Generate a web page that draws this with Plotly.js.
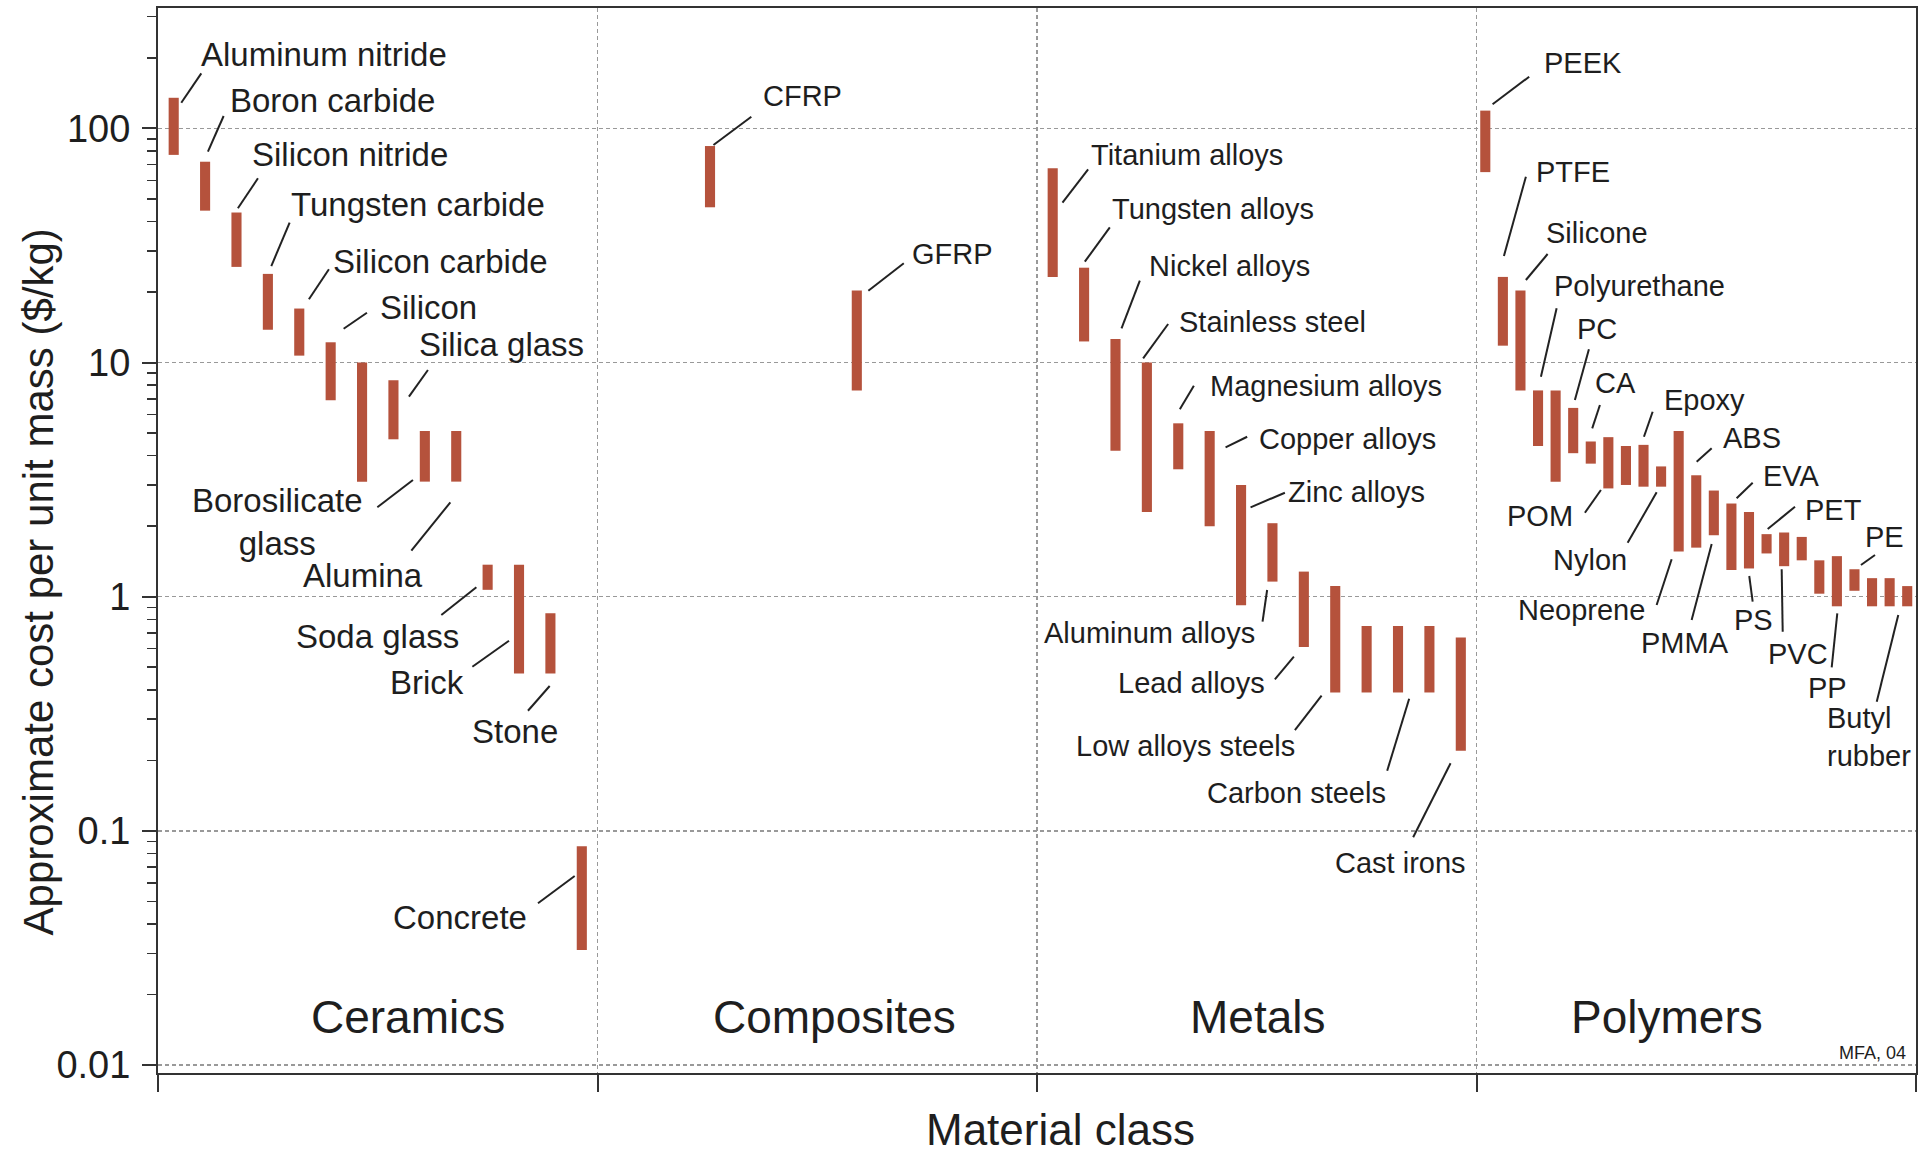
<!DOCTYPE html>
<html>
<head>
<meta charset="utf-8">
<script src="https://cdn.plot.ly/plotly-3.0.1.min.js"></script>
<style>
html,body{margin:0;padding:0;background:#ffffff;}
#chart{width:1922px;height:1157px;}
</style>
</head>
<body>
<div id="chart"></div>
<script>
// ---------------- DATA ----------------
const categories = ['Ceramics', 'Composites', 'Metals', 'Polymers'];

const ceramicsNames = ['Aluminum nitride', 'Boron carbide', 'Silicon nitride', 'Tungsten carbide',
  'Silicon carbide', 'Silicon', null, 'Silica glass', 'Borosilicate glass', 'Alumina',
  'Soda glass', 'Brick', 'Stone', 'Concrete'];
const ceramicsLow  = [77, 44.5, 25.6, 13.8, 10.7, 6.9, 3.1, 4.7, 3.1, 3.1, 1.07, 0.47, 0.47, 0.031];
const ceramicsHigh = [135, 72, 43.7, 23.9, 17, 12.2, 10, 8.4, 5.1, 5.1, 1.37, 1.37, 0.85, 0.086];

const compositesNames = ['CFRP', 'GFRP'];
const compositesLow  = [46, 7.6];
const compositesHigh = [84, 20.3];

const metalsNames = ['Titanium alloys', 'Tungsten alloys', 'Nickel alloys', 'Stainless steel',
  'Magnesium alloys', 'Copper alloys', 'Zinc alloys', 'Aluminum alloys', 'Lead alloys',
  'Low alloys steels', null, 'Carbon steels', null, 'Cast irons'];
const metalsLow  = [23.2, 12.3, 4.2, 2.3, 3.5, 2.0, 0.92, 1.16, 0.61, 0.39, 0.39, 0.39, 0.39, 0.22];
const metalsHigh = [67.5, 25.4, 12.6, 10, 5.5, 5.1, 3.0, 2.06, 1.28, 1.11, 0.75, 0.75, 0.75, 0.67];

const polymersNames = ['PEEK', 'PTFE', 'Silicone', 'Polyurethane', null, 'PC', 'CA', 'POM', null,
  'Epoxy', 'Nylon', 'Neoprene', 'ABS', 'PMMA', 'EVA', 'PS', 'PET', 'PVC', null, null,
  'PP', 'PE', null, null, 'Butyl rubber'];
const polymersLow  = [65, 11.8, 7.6, 4.4, 3.1, 4.1, 3.7, 2.9, 3.0, 2.95, 2.95, 1.56, 1.62, 1.83,
  1.3, 1.32, 1.53, 1.35, 1.43, 1.03, 0.91, 1.06, 0.91, 0.91, 0.91];
const polymersHigh = [119, 23.2, 20.3, 7.6, 7.6, 6.4, 4.6, 4.8, 4.4, 4.45, 3.6, 5.1, 3.3, 2.84,
  2.5, 2.3, 1.85, 1.88, 1.8, 1.43, 1.49, 1.31, 1.2, 1.2, 1.11];

const yTickValues = [0.01, 0.1, 1, 10, 100];
const yTickLabels = ['0.01', '0.1', '1', '10', '100'];

const xTitle = 'Material class';
const yTitle = 'Approximate cost per unit mass ($/kg)';

// ---------------- LAYOUT HELPERS (label placement, not data) ----------------
// composites bars are not evenly spaced inside their class column
const compositeSlots = [0.256, 0.590];

// label: [textX, textY(log10), xanchor, leaderX0, leaderY0(log10), leaderX1, leaderY1(log10)]
const labelPlacement = {
  'Aluminum nitride':   [0.0931, 2.3151, 'left',   0.0530, 2.1093, 0.0985, 2.2348],
  'Boron carbide':      [0.1591, 2.1196, 'left',   0.1136, 1.9001, 0.1493, 2.0525],
  'Silicon nitride':    [0.2085, 1.8903, 'left',   0.1818, 1.6584, 0.2274, 1.7865],
  'Tungsten carbide':   [0.2979, 1.6755, 'left',   0.2578, 1.4120, 0.2995, 1.5969],
  'Silicon carbide':    [0.3944, 1.4334, 'left',   0.3434, 1.2698, 0.3889, 1.3979],
  'Silicon':            [0.5005, 1.2357, 'left',   0.4224, 1.1443, 0.4754, 1.2126],
  'Silica glass':       [0.5892, 1.0777, 'left',   0.5710, 0.8540, 0.6142, 0.9680],
  'Borosilicate glass': [0.4702, 0.3190, 'right',  0.4991, 0.3817, 0.5801, 0.4983],
  'Alumina':            [0.6067, 0.0892, 'right',  0.5765, 0.1964, 0.6652, 0.4031],
  'Soda glass':         [0.6903, -0.1709, 'right', 0.6447, -0.0782, 0.7244, 0.0401],
  'Brick':              [0.7000, -0.3673, 'right', 0.7153, -0.2990, 0.7986, -0.1879],
  'Stone':              [0.8122, -0.5744, 'center',0.8418, -0.4868, 0.8912, -0.3813],
  'Concrete':           [0.8441, -1.3676, 'right', 0.8646, -1.3092, 0.9481, -1.1926],

  'CFRP':               [1.3721, 2.1401, 'left',   1.2638, 1.9287, 1.3500, 2.0495],
  'GFRP':               [1.7121, 1.4624, 'left',   1.6163, 1.3066, 1.6969, 1.4236],

  'Titanium alloys':    [2.1186, 1.8881, 'left',   2.0580, 1.6823, 2.1163, 1.8249],
  'Tungsten alloys':    [2.1657, 1.6563, 'left',   2.1088, 1.4304, 2.1657, 1.5773],
  'Nickel alloys':      [2.2492, 1.4142, 'left',   2.1923, 1.1460, 2.2340, 1.3493],
  'Stainless steel':    [2.3175, 1.1721, 'left',   2.2415, 1.0179, 2.2984, 1.1644],
  'Magnesium alloys':   [2.3894, 0.9018, 'left',   2.3250, 0.8001, 2.3569, 0.9009],
  'Copper alloys':      [2.4995, 0.6725, 'left',   2.4290, 0.6379, 2.4782, 0.6831],
  'Zinc alloys':        [2.5662, 0.4483, 'left',   2.4859, 0.3817, 2.5640, 0.4440],
  'Aluminum alloys':    [2.5009, -0.1529, 'right', 2.5132, -0.1068, 2.5236, 0.0286],
  'Lead alloys':        [2.5223, -0.3699, 'right', 2.5412, -0.3528, 2.5845, -0.2563],
  'Low alloys steels':  [2.5906, -0.6367, 'right', 2.5868, -0.5693, 2.6475, -0.4228],
  'Carbon steels':      [2.7991, -0.8361, 'right', 2.7968, -0.7430, 2.8468, -0.4356],
  'Cast irons':         [2.8264, -1.1350, 'center',2.8559, -1.0274, 2.9410, -0.7114],

  'PEEK':               [3.1482, 2.2776, 'left',   3.0366, 2.1025, 3.1199, 2.2203],
  'PTFE':               [3.1307, 1.8147, 'left',   3.0624, 1.4547, 3.1124, 1.7933],
  'Silicone':           [3.1534, 1.5529, 'left',   3.1124, 1.3523, 3.1618, 1.4633],
  'Polyurethane':       [3.1709, 1.3288, 'left',   3.1466, 0.9394, 3.1823, 1.2314],
  'PC':                 [3.2239, 1.1439, 'left',   3.2239, 0.8399, 3.2558, 1.0564],
  'CA':                 [3.2656, 0.9133, 'left',   3.2633, 0.7190, 3.2808, 0.8185],
  'Epoxy':              [3.4212, 0.8386, 'left',   3.3810, 0.6831, 3.4008, 0.7899],
  'POM':                [3.2239, 0.3437, 'right',  3.2467, 0.3586, 3.2831, 0.4556],
  'Nylon':              [3.3475, 0.1567, 'right',  3.3439, 0.2305, 3.4099, 0.4457],
  'Neoprene':           [3.3885, -0.0568, 'right', 3.4099, -0.0355, 3.4440, 0.1597],
  'ABS':                [3.5555, 0.6763, 'left',   3.5009, 0.5764, 3.5351, 0.6336],
  'PMMA':               [3.4743, -0.1991, 'center',3.4895, -0.0995, 3.5351, 0.2250],
  'EVA':                [3.6466, 0.5140, 'left',   3.5919, 0.4201, 3.6284, 0.4867],
  'PS':                 [3.6306, -0.0995, 'center',3.6284, -0.0214, 3.6206, 0.0884],
  'PET':                [3.7422, 0.3689, 'left',   3.6626, 0.2890, 3.7247, 0.3843],
  'PVC':                [3.7315, -0.2435, 'center',3.6967, -0.1494, 3.6944, 0.1170],
  'PE':                 [3.8787, 0.2562, 'left',   3.8748, 0.1353, 3.9067, 0.1780],
  'PP':                 [3.7981, -0.3913, 'center',3.8082, -0.3015, 3.8209, -0.0709],
  'Butyl rubber':       [3.7940, -0.6004, 'left',  3.9106, -0.4484, 3.9597, -0.0782]
};
const labelDisplay = {'Borosilicate glass': 'Borosilicate<br>glass', 'Butyl rubber': 'Butyl<br>rubber'};
const labelAlign = {'Borosilicate glass': 'center', 'Butyl rubber': 'left'};
// label font size per class column (ceramics labels are set larger in the original)
const labelSizeByClass = [33, 29, 29, 29];

// class captions: [x centre, y (log10)]
const classCaptionPos = [[0.568, -1.7948], [1.540, -1.7948], [2.502, -1.7948], [3.433, -1.7948]];

// ---------------- BUILD ----------------
const groups = [
  {names: ceramicsNames, low: ceramicsLow, high: ceramicsHigh},
  {names: compositesNames, low: compositesLow, high: compositesHigh, slots: compositeSlots},
  {names: metalsNames, low: metalsLow, high: metalsHigh},
  {names: polymersNames, low: polymersLow, high: polymersHigh}
];

const barX = [], barBase = [], barLen = [], barHover = [];
const classOfName = {};
groups.forEach((g, ci) => {
  const n = g.low.length;
  g.low.forEach((lo, i) => {
    const x = ci + (g.slots ? g.slots[i] : (i + 0.5) / n);
    barX.push(x);
    barBase.push(lo);
    barLen.push(g.high[i] - lo);
    barHover.push((g.names[i] || categories[ci]) + ': ' + lo + ' – ' + g.high[i] + ' $/kg');
    if (g.names[i]) classOfName[g.names[i]] = ci;
  });
});

const FONT = 'Liberation Sans, Arial, Helvetica, sans-serif';
const TXT = '#1e1e1e';

const leadX = [], leadY = [];
const annotations = [];
Object.keys(labelPlacement).forEach(name => {
  const p = labelPlacement[name];
  leadX.push(p[3], p[5], null);
  leadY.push(Math.pow(10, p[4]), Math.pow(10, p[6]), null);
  annotations.push({
    x: p[0], y: p[1], xref: 'x', yref: 'y',
    text: labelDisplay[name] || name,
    showarrow: false, xanchor: p[2], yanchor: 'middle',
    align: labelAlign[name] || 'left',
    font: {family: FONT, size: labelSizeByClass[classOfName[name]], color: TXT}
  });
});

categories.forEach((c, i) => {
  annotations.push({
    x: classCaptionPos[i][0], y: classCaptionPos[i][1], xref: 'x', yref: 'y',
    text: c, showarrow: false, xanchor: 'center', yanchor: 'middle',
    font: {family: FONT, size: 46, color: TXT}
  });
});

annotations.push({
  x: 3.982, y: -1.9485, xref: 'x', yref: 'y', text: 'MFA, 04', showarrow: false,
  xanchor: 'right', yanchor: 'middle',
  font: {family: 'Liberation Sans Narrow, Arial Narrow, ' + FONT, size: 18, color: TXT}
});

// axis titles (placed as paper annotations to match the original's offsets)
annotations.push({
  x: -0.068, y: 0.461, xref: 'paper', yref: 'paper', text: yTitle, textangle: -90,
  showarrow: false, xanchor: 'center', yanchor: 'middle',
  font: {family: FONT, size: 42, color: TXT}
});
annotations.push({
  x: 0.5131, y: -0.0535, xref: 'paper', yref: 'paper', text: xTitle,
  showarrow: false, xanchor: 'center', yanchor: 'middle',
  font: {family: FONT, size: 44, color: TXT}
});

const minorVals = [];
for (let d = -2; d <= 2; d++) {
  for (let m = 2; m <= 9; m++) minorVals.push(m * Math.pow(10, d));
}

const traces = [
  {
    type: 'bar', x: barX, base: barBase, y: barLen, width: 0.023,
    marker: {color: '#b5523c', line: {width: 0}},
    hovertext: barHover, hoverinfo: 'text', showlegend: false
  },
  {
    type: 'scatter', mode: 'lines', x: leadX, y: leadY,
    line: {color: '#222222', width: 2}, hoverinfo: 'skip', showlegend: false
  }
];

const layout = {
  width: 1922, height: 1157,
  margin: {l: 158, r: 6, t: 8, b: 84},
  paper_bgcolor: '#ffffff', plot_bgcolor: '#ffffff',
  showlegend: false,
  font: {family: FONT, color: TXT},
  xaxis: {
    range: [0, 4], tickmode: 'array', tickvals: [0, 1, 2, 3, 4], showticklabels: false,
    ticks: 'outside', ticklen: 17, tickwidth: 2, tickcolor: '#333',
    showgrid: true, gridcolor: '#999999', griddash: '4px,3px', gridwidth: 1.5,
    zeroline: false, showline: true, mirror: true, linecolor: '#333', linewidth: 2
  },
  yaxis: {
    type: 'log', range: [-2.0337, 2.5137],
    tickmode: 'array', tickvals: yTickValues, ticktext: yTickLabels,
    ticks: 'outside', ticklen: 14, tickwidth: 2, tickcolor: '#333',
    ticklabelstandoff: 4,
    tickfont: {family: FONT, size: 38, color: TXT},
    minor: {tickmode: 'array', tickvals: minorVals, ticks: 'outside', ticklen: 9,
            tickwidth: 1.5, tickcolor: '#333', showgrid: false},
    showgrid: true, gridcolor: '#999999', griddash: '4px,3px', gridwidth: 1.5,
    zeroline: false, showline: true, mirror: true, linecolor: '#333', linewidth: 2
  },
  annotations: annotations
};

Plotly.newPlot('chart', traces, layout, {displayModeBar: false, staticPlot: true});
</script>
</body>
</html>
